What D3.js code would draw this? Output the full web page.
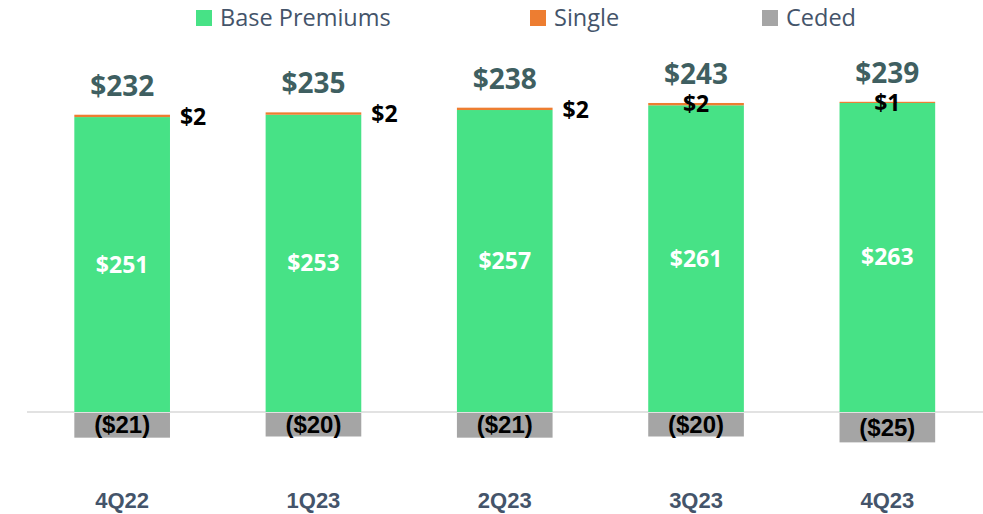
<!DOCTYPE html>
<html>
<head>
<meta charset="utf-8">
<script src="https://cdn.jsdelivr.net/npm/d3@7"></script>
<style>
  body { margin: 0; background: #fff; }
  svg { display: block; }
</style>
</head>
<body>
<svg width="983" height="514"></svg>
<script>
// chart values
const quarters = ['4Q22', '1Q23', '2Q23', '3Q23', '4Q23'];
const basePremiums = [251, 253, 257, 261, 263];
const single = [2, 2, 2, 2, 1];
const ceded = [-21, -20, -21, -20, -25];
const totals = [232, 235, 238, 243, 239];

const legendNames = ['Base Premiums', 'Single', 'Ceded'];
const colors = {base: '#47e286', single: '#ed7d31', ceded: '#a5a5a5'};
// small "$2" labels sit right of the bar for the first three quarters
const singleOutside = [true, true, true, false, false];

const width = 983, height = 514;
const svg = d3.select('svg');

const x = d3.scaleBand().domain(quarters).range([26.5, 983])
    .paddingInner(0.5).paddingOuter(0.25);
const y = d3.scaleLinear().domain([-30, 300]).range([447.25, 59.5]);

const rows = quarters.map((q, i) => ({
    q: q, base: basePremiums[i], single: single[i], ceded: ceded[i],
    total: totals[i], outside: singleOutside[i]
}));

// zero line
svg.append('line')
    .attr('x1', 27).attr('x2', width)
    .attr('y1', y(0)).attr('y2', y(0))
    .attr('stroke', '#d9d9d9').attr('stroke-width', 1.5);

const g = svg.selectAll('.bar').data(rows).enter()
    .append('g').attr('class', 'bar');

g.append('rect')
    .attr('x', d => x(d.q)).attr('width', x.bandwidth())
    .attr('y', d => y(d.base)).attr('height', d => y(0) - y(d.base))
    .attr('fill', colors.base);

g.append('rect')
    .attr('x', d => x(d.q)).attr('width', x.bandwidth())
    .attr('y', d => y(d.base + d.single)).attr('height', d => y(d.base) - y(d.base + d.single))
    .attr('fill', colors.single);

g.append('rect')
    .attr('x', d => x(d.q)).attr('width', x.bandwidth())
    .attr('y', y(0) + 1).attr('height', d => y(d.ceded) - y(0))
    .attr('fill', colors.ceded);

const fmt = v => v < 0 ? '($' + Math.abs(v) + ')' : '$' + v;
const cx = d => x(d.q) + x.bandwidth() / 2;

// base premium values inside the green
g.append('text')
    .attr('x', cx).attr('y', d => (y(d.base) + y(0)) / 2 + 8)
    .attr('text-anchor', 'middle')
    .style('font', 'bold 23px "Open Sans"').attr('fill', '#fff')
    .text(d => fmt(d.base));

// totals on top
g.append('text')
    .attr('x', cx).attr('y', d => y(d.base + d.single) - 19)
    .attr('text-anchor', 'middle')
    .style('font', 'bold 28px "Open Sans"').attr('fill', '#3f5f61')
    .text(d => fmt(d.total));

// single values
g.append('text')
    .attr('x', d => d.outside ? x(d.q) + x.bandwidth() + 10 : cx(d))
    .attr('y', d => y(d.base + d.single) + (d.outside ? 10 : 9))
    .attr('text-anchor', d => d.outside ? 'start' : 'middle')
    .style('font', 'bold 23px "Open Sans"').attr('fill', '#000')
    .text(d => fmt(d.single));

// ceded values
g.append('text')
    .attr('x', cx).attr('y', d => (y(0) + y(d.ceded)) / 2 + 9)
    .attr('text-anchor', 'middle')
    .style('font', 'bold 24px "Liberation Sans"').attr('fill', '#000')
    .text(d => fmt(d.ceded));

// category labels
g.append('text')
    .attr('x', cx).attr('y', 508)
    .attr('text-anchor', 'middle')
    .style('font', 'bold 22px "Liberation Sans"').attr('fill', '#44546a')
    .text(d => d.q);

// legend
const legendX = [196, 530, 762];
const legendColors = [colors.base, colors.single, colors.ceded];
const lg = svg.selectAll('.legend').data(legendNames).enter()
    .append('g').attr('class', 'legend')
    .attr('transform', (d, i) => 'translate(' + legendX[i] + ',0)');
lg.append('rect').attr('x', 0).attr('y', 10).attr('width', 16).attr('height', 16)
    .attr('fill', (d, i) => legendColors[i]);
lg.append('text').attr('x', 24).attr('y', 26)
    .style('font', '23.5px "Open Sans"').attr('fill', '#44546a')
    .text(d => d);
</script>
</body>
</html>
